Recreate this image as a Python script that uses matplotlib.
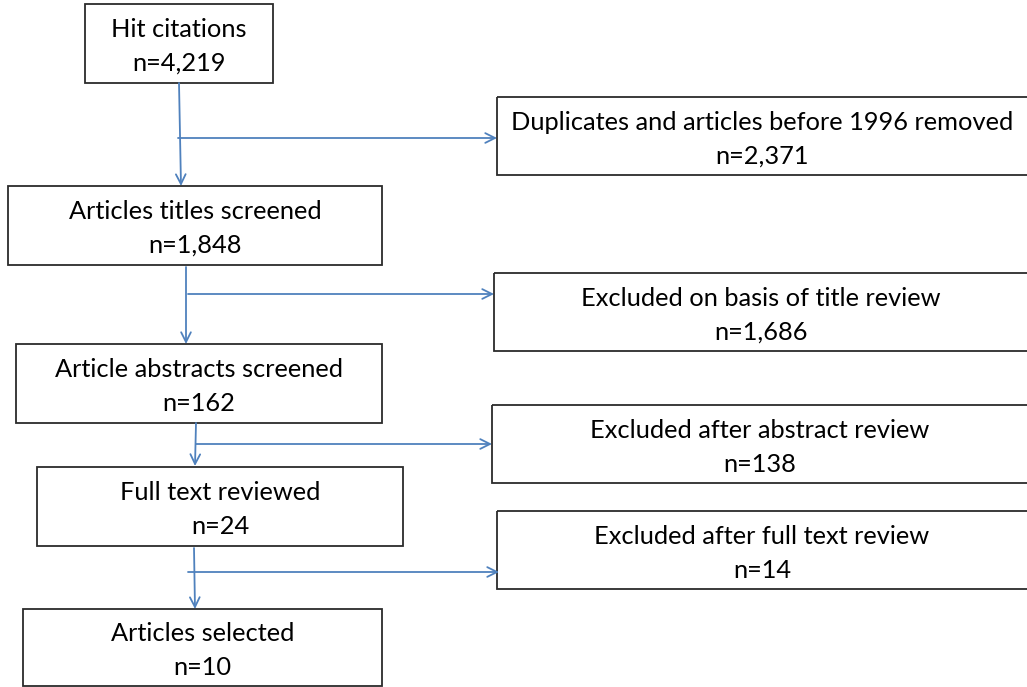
import matplotlib.pyplot as plt
from matplotlib.patches import Rectangle

# flow chart content
stages = ["Hit citations", "Articles titles screened", "Article abstracts screened",
          "Full text reviewed", "Articles selected"]
stage_counts = ["4,219", "1,848", "162", "24", "10"]
exclusions = ["Duplicates and articles before 1996 removed", "Excluded on basis of title review",
              "Excluded after abstract review", "Excluded after full text review"]
exclusion_counts = ["2,371", "1,686", "138", "14"]

# layout in pixels: (x0, y0, x1, y1)
stage_boxes = [(85, 4, 273, 83), (8, 186, 382, 265), (16, 344, 382, 423),
               (37, 467, 403, 546), (23, 609, 382, 686)]
excl_boxes = [(497, 97, 1030, 175), (494, 273, 1030, 351), (492, 405, 1030, 483),
              (497, 511, 1030, 589)]
# vertical arrows (x_top, y_top, x_bottom, y_bottom), side arrows (x0, y, x1)
down_arrows = [(179, 83, 181, 186), (186, 267, 186, 344), (196, 423, 195, 466), (194, 548, 195, 609)]
side_arrows = [(178, 138, 497), (188, 294, 494), (196, 444, 492), (188, 572, 499)]

blue = "#4f81bd"
edge = "#2b2b2b"
font = ["Lato", "DejaVu Sans"]

fig = plt.figure(figsize=(10.27, 6.87), dpi=100)
ax = fig.add_axes([0, 0, 1, 1])
ax.set_xlim(0, 1027)
ax.set_ylim(687, 0)
ax.axis("off")

def box(b, label, n):
    x0, y0, x1, y1 = b
    ax.add_patch(Rectangle((x0, y0), x1 - x0, y1 - y0, fill=False, ec=edge, lw=1.3))
    cx = (x0 + x1) / 2 if x1 < 1027 else (x0 + 1027) / 2
    cy = (y0 + y1) / 2
    ax.text(cx, cy - 14, label, ha="center", va="center", fontsize=18.3, family=font, color="black")
    ax.text(cx, cy + 20, "n=" + n, ha="center", va="center", fontsize=18.3, family=font, color="black")

for b, s, n in zip(stage_boxes, stages, stage_counts):
    box(b, s, n)
for b, s, n in zip(excl_boxes, exclusions, exclusion_counts):
    box(b, s, n)

arrow = dict(arrowstyle="->,head_length=0.7,head_width=0.35", color=blue, lw=1.3,
             shrinkA=0, shrinkB=0)
for xa, ya, xb, yb in down_arrows:
    ax.annotate("", xy=(xb, yb), xytext=(xa, ya), arrowprops=arrow)
for xa, y, xb in side_arrows:
    ax.annotate("", xy=(xb, y), xytext=(xa, y), arrowprops=arrow)

fig.savefig("out.png", dpi=100)
